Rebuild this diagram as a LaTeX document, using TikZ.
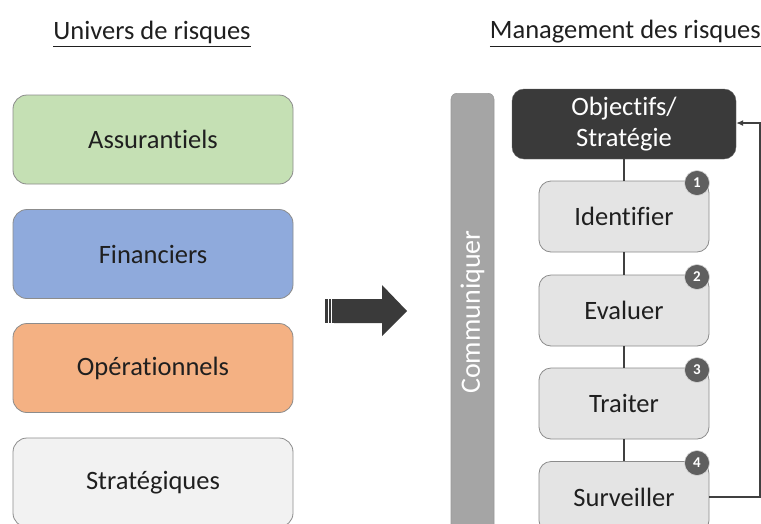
\documentclass[tikz,border=0pt]{standalone}
\usepackage{fontspec}
\setmainfont{Carlito}[Ligatures=NoCommon]
\usetikzlibrary{arrows.meta}
\definecolor{txt}{HTML}{1F1F1F}
\definecolor{cgreen}{HTML}{C5E0B4}
\definecolor{cblue}{HTML}{8FAADC}
\definecolor{corange}{HTML}{F4B183}
\definecolor{clight}{HTML}{F2F2F2}
\definecolor{cstep}{HTML}{E4E4E4}
\definecolor{cdark}{HTML}{3A3A3A}
\definecolor{cbar}{HTML}{A5A5A5}
\definecolor{cbadge}{HTML}{5F5F5F}
\definecolor{cline}{HTML}{404040}
\tikzset{
  riskbox/.style={draw=black!45, line width=0.8pt, rounded corners=14pt, minimum width=280pt, minimum height=89pt, text=txt, font=\fontsize{26.5}{30}\selectfont},
  stepbox/.style={draw=black!45, line width=0.8pt, fill=cstep, rounded corners=12pt, minimum width=170pt, minimum height=71pt, text=txt, font=\fontsize{26.5}{30}\selectfont},
  badge/.style={circle, fill=cbadge, draw=white!85!black, line width=0.6pt, minimum size=25pt, inner sep=0pt, text=white, font=\bfseries\fontsize{15}{16}\selectfont},
  conn/.style={draw=cline, line width=1.2pt},
  title/.style={text=txt, font=\fontsize{26.5}{30}\selectfont, inner sep=0pt}
}
\begin{document}
\begin{tikzpicture}[x=1pt,y=-1pt]
\useasboundingbox (0,0) rectangle (761,523);
\clip (0,0) rectangle (761,523);
\fill[white] (0,0) rectangle (761,523);
% titles
\node[title] (t1) at (152,32) {Univers de risques};
\draw[txt, line width=1.4pt] ([yshift=-3pt]t1.south west) -- ([yshift=-3pt]t1.south east);
\node[title, anchor=east] (t2) at (761,32) {Management des risques};
\draw[txt, line width=1.4pt] ([yshift=-3pt]t2.south west) -- ([yshift=-3pt]t2.south east);
% left boxes
\node[riskbox, fill=cgreen] (a) at (153,139.5) {Assurantiels};
\node[riskbox, fill=cblue] (f) at (153,254) {Financiers};
\node[riskbox, fill=corange] (o) at (153,368) {Opérationnels};
\node[riskbox, fill=clight] (s) at (153,482.5) {Stratégiques};
% big arrow
\fill[cdark] (334,299) -- (382,299) -- (382,285) -- (407,311) -- (382,336) -- (382,323) -- (334,323) -- cycle;
\fill[cdark] (325,299) rectangle (328,323);
\fill[cdark] (329.3,299) rectangle (330.8,323);
\fill[cdark] (331.8,299) rectangle (333.5,323);
% communiquer bar
\node[fill=cbar, draw=black!40, line width=0.6pt, rounded corners=6pt, minimum width=43pt, minimum height=460pt, anchor=north, inner sep=0pt] (bar) at (472.5,93) {};
\node[rotate=90, text=white, font=\fontsize{28}{30}\selectfont] (com) at (472.5,312) {Communiquer};
% objectives
\node[draw=black!60, fill=cdark, rounded corners=12pt, minimum width=224pt, minimum height=70pt, text=white, align=center, font=\fontsize{26.5}{31}\selectfont] (obj) at (624,124) {Objectifs/\\Stratégie};
% steps
\node[stepbox] (s1) at (624,216.5) {Identifier};
\node[stepbox] (s2) at (624,310.5) {Evaluer};
\node[stepbox] (s3) at (624,403.5) {Traiter};
\node[stepbox] (s4) at (624,497) {Surveiller};
% connectors
\draw[conn] (obj.south) -- (s1.north);
\draw[conn] (s1.south) -- (s2.north);
\draw[conn] (s2.south) -- (s3.north);
\draw[conn] (s3.south) -- (s4.north);
\coordinate (fb1) at (760,497);
\coordinate (fb2) at (760,123);
\draw[conn, -{Latex[length=7pt,width=6pt]}] (s4.east) -- (fb1) -- (fb2) -- (obj.east |- fb2);
% badges
\node[badge] (b1) at (697,183) {1};
\node[badge] (b2) at (697,277) {2};
\node[badge] (b3) at (697,370) {3};
\node[badge] (b4) at (697,463) {4};
\end{tikzpicture}
\end{document}
